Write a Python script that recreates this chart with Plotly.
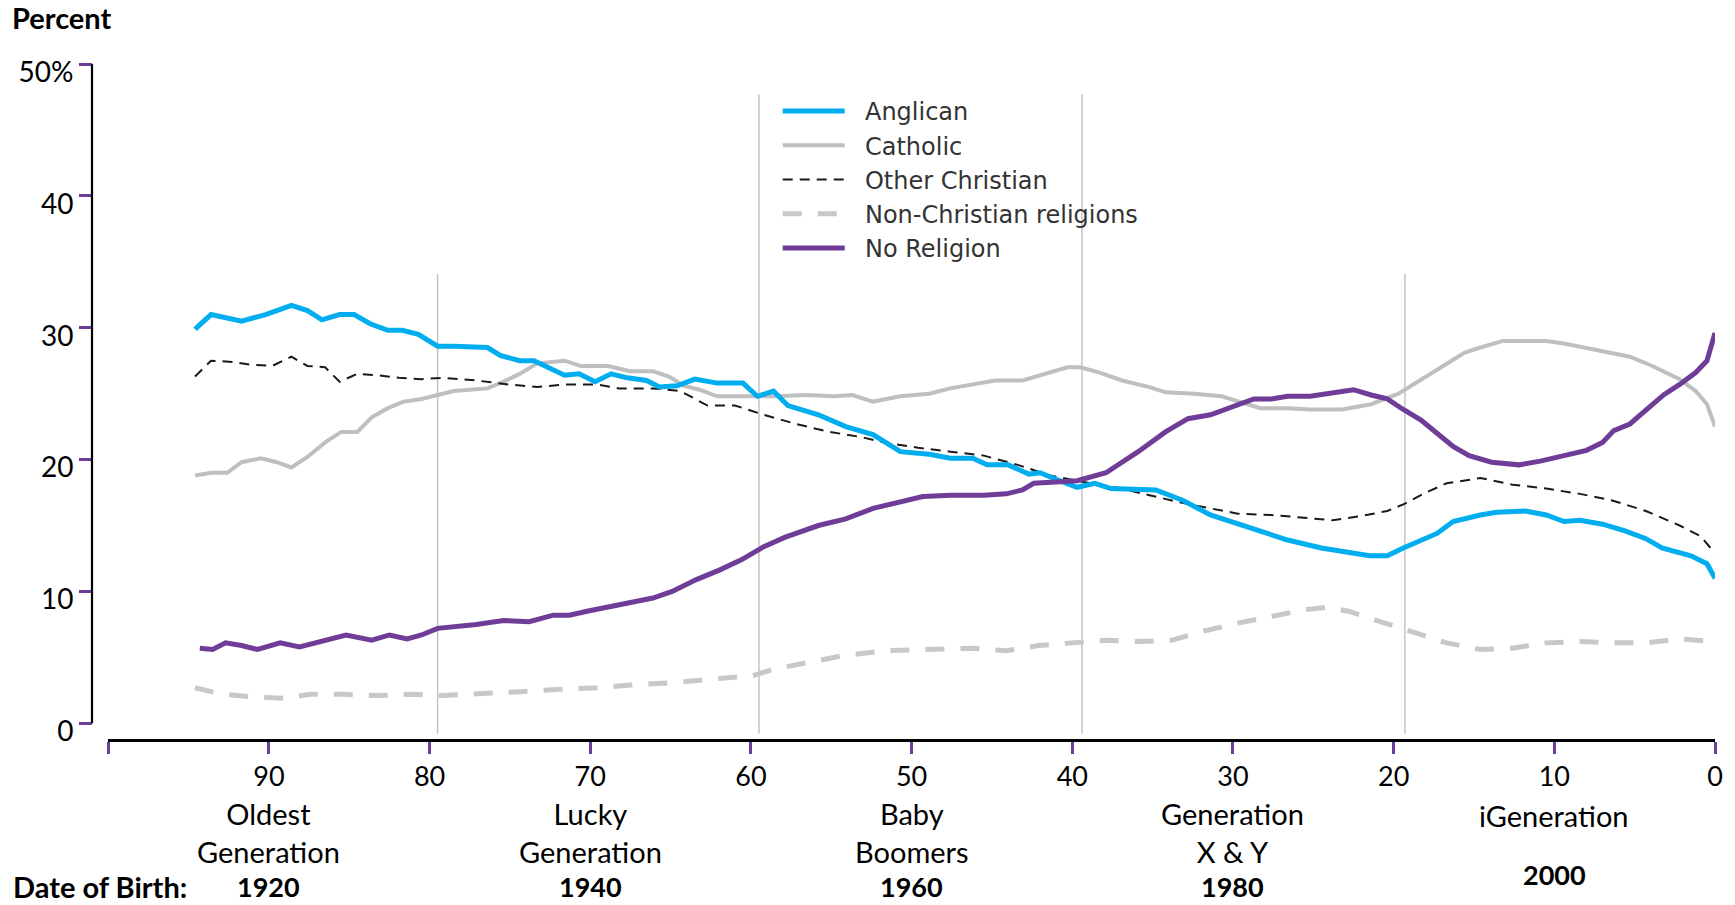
import plotly.graph_objects as go

# ---------------- data (age in years, percent) ----------------
anglican_age = [94.6, 93.6, 91.7, 90.2, 88.6, 87.6, 86.7, 85.6, 84.7, 83.7, 82.6, 81.7, 80.7, 79.5, 78.5,
                76.4, 75.6, 74.4, 73.5, 72.3, 71.6, 70.7, 69.7, 68.7, 67.7, 66.5, 65.7, 64.6, 63.5, 62.1,
                60.5, 59.6, 58.6, 57.7, 55.8, 54.1, 52.4, 50.7, 48.9, 47.6, 46.2, 45.3, 44.0, 42.7, 42.0,
                41.0, 39.7, 38.6, 37.6, 34.8, 33.1, 31.4, 29.0, 26.6, 24.5, 22.5, 21.5, 20.4, 19.4, 17.3,
                16.3, 14.6, 13.6, 11.8, 10.5, 9.4, 8.4, 7.0, 5.6, 4.3, 3.3, 1.5, 0.5, 0.0]
anglican_pct = [29.9, 31.0, 30.5, 31.0, 31.7, 31.3, 30.6, 31.0, 31.0, 30.3, 29.8, 29.8, 29.5, 28.6, 28.6,
                28.5, 27.9, 27.5, 27.5, 26.8, 26.4, 26.5, 25.9, 26.5, 26.2, 26.0, 25.5, 25.6, 26.1, 25.8,
                25.8, 24.8, 25.2, 24.1, 23.4, 22.5, 21.9, 20.6, 20.4, 20.1, 20.1, 19.6, 19.6, 18.9, 19.0,
                18.5, 17.9, 18.2, 17.8, 17.7, 16.9, 15.8, 14.8, 13.9, 13.3, 12.9, 12.7, 12.7, 13.3, 14.4,
                15.3, 15.8, 16.0, 16.1, 15.8, 15.3, 15.4, 15.1, 14.6, 14.0, 13.3, 12.7, 12.1, 11.0]

catholic_age = [94.6, 93.6, 92.6, 91.7, 90.5, 89.5, 88.6, 87.6, 86.5, 85.5, 84.5, 83.6, 82.6, 81.6, 80.5,
                79.5, 78.5, 76.4, 75.4, 74.4, 73.3, 71.6, 70.6, 68.9, 67.5, 66.1, 65.1, 64.2, 63.2, 62.1,
                60.5, 58.6, 56.5, 54.8, 53.7, 52.4, 50.7, 48.9, 47.6, 46.2, 44.8, 43.1, 41.7, 40.3, 39.5,
                38.3, 36.9, 35.2, 34.2, 32.4, 30.7, 29.7, 28.3, 26.6, 25.2, 23.2, 21.4, 19.7, 18.4, 17.0,
                15.6, 14.6, 13.2, 11.8, 10.5, 9.4, 7.7, 6.3, 5.3, 3.9, 2.2, 1.2, 0.5, 0.0]
catholic_pct = [18.8, 19.0, 19.0, 19.8, 20.1, 19.8, 19.4, 20.2, 21.3, 22.1, 22.1, 23.2, 23.9, 24.4, 24.6,
                24.9, 25.2, 25.4, 25.9, 26.5, 27.3, 27.5, 27.1, 27.1, 26.7, 26.7, 26.3, 25.6, 25.3, 24.8,
                24.8, 24.8, 24.9, 24.8, 24.9, 24.4, 24.8, 25.0, 25.4, 25.7, 26.0, 26.0, 26.5, 27.0, 27.0,
                26.6, 26.0, 25.5, 25.1, 25.0, 24.8, 24.4, 23.9, 23.9, 23.8, 23.8, 24.2, 25.0, 26.0, 27.1,
                28.1, 28.5, 29.0, 29.0, 29.0, 28.8, 28.4, 28.1, 27.8, 27.1, 26.1, 25.2, 24.2, 22.5]

other_christian_age = [94.6, 93.6, 92.2, 91.2, 89.8, 88.6, 87.6, 86.5, 85.6, 84.5, 83.3, 81.9, 80.5, 79.2,
                       77.1, 75.1, 73.3, 71.6, 69.6, 68.2, 66.1, 64.4, 62.7, 61.0, 59.2, 57.2, 55.1, 53.1,
                       51.7, 49.6, 47.6, 45.5, 43.4, 41.4, 39.3, 37.3, 35.2, 33.1, 31.4, 29.7, 27.6, 25.6,
                       23.8, 22.1, 20.4, 19.4, 18.0, 16.7, 14.6, 12.6, 10.5, 8.4, 6.4, 4.3, 2.2, 0.9, 0.0]
other_christian_pct = [26.3, 27.5, 27.4, 27.2, 27.1, 27.8, 27.1, 27.0, 25.9, 26.5, 26.4, 26.2, 26.1, 26.2,
                       26.0, 25.7, 25.5, 25.7, 25.7, 25.4, 25.4, 25.2, 24.1, 24.1, 23.4, 22.7, 22.1, 21.7,
                       21.3, 20.9, 20.6, 20.3, 19.6, 18.8, 18.3, 17.9, 17.3, 16.7, 16.3, 15.9, 15.8, 15.6,
                       15.4, 15.7, 16.1, 16.6, 17.5, 18.2, 18.6, 18.1, 17.8, 17.4, 16.9, 16.1, 15.0, 14.2, 12.9]

non_christian_age = [94.6, 92.9, 90.9, 89.1, 87.4, 85.4, 83.3, 81.2, 79.2, 77.1, 74.4, 71.6, 69.6, 67.5,
                     64.7, 62.0, 59.9, 58.6, 56.5, 54.4, 51.7, 48.9, 46.2, 44.1, 42.1, 40.0, 37.9, 35.9,
                     33.8, 31.8, 29.7, 27.6, 25.6, 24.2, 22.8, 20.8, 18.7, 16.7, 14.6, 12.6, 10.5, 8.4,
                     6.4, 4.3, 2.2, 0.0]
non_christian_pct = [2.7, 2.2, 2.0, 1.9, 2.2, 2.2, 2.1, 2.2, 2.1, 2.2, 2.4, 2.6, 2.7, 2.9,
                     3.1, 3.4, 3.6, 4.1, 4.6, 5.1, 5.5, 5.6, 5.7, 5.5, 5.9, 6.1, 6.3, 6.2,
                     6.3, 7.0, 7.6, 8.1, 8.6, 8.8, 8.5, 7.7, 6.9, 6.1, 5.6, 5.7, 6.1, 6.2,
                     6.1, 6.1, 6.4, 6.2]

no_religion_age = [94.3, 93.5, 92.7, 91.7, 90.7, 89.3, 88.1, 86.7, 85.2, 83.6, 82.5, 81.4, 80.5, 79.5,
                   78.4, 77.1, 75.4, 73.8, 72.3, 71.3, 70.2, 68.9, 67.5, 66.1, 64.9, 63.4, 62.0, 60.6,
                   59.2, 57.9, 55.8, 54.1, 52.4, 50.7, 49.3, 47.6, 45.5, 44.1, 43.1, 42.4, 41.0, 39.7,
                   37.9, 35.9, 34.2, 32.8, 31.4, 30.0, 28.7, 27.6, 26.6, 25.2, 24.2, 22.5, 21.4, 20.4,
                   19.4, 18.3, 17.3, 16.3, 15.3, 13.9, 12.2, 10.8, 9.4, 8.0, 7.0, 6.3, 5.3, 4.3, 3.2,
                   2.2, 1.2, 0.5, 0.0]
no_religion_pct = [5.7, 5.6, 6.1, 5.9, 5.6, 6.1, 5.8, 6.2, 6.7, 6.3, 6.7, 6.4, 6.7, 7.2,
                   7.3, 7.5, 7.8, 7.7, 8.2, 8.2, 8.5, 8.8, 9.1, 9.5, 10.0, 10.9, 11.6, 12.4,
                   13.4, 14.1, 15.0, 15.5, 16.3, 16.8, 17.2, 17.3, 17.3, 17.4, 17.7, 18.2, 18.3, 18.4,
                   19.0, 20.6, 22.1, 23.1, 23.4, 24.0, 24.6, 24.6, 24.8, 24.8, 25.0, 25.3, 24.9, 24.6,
                   23.8, 23.0, 22.0, 21.0, 20.3, 19.8, 19.6, 19.9, 20.3, 20.7, 21.3, 22.2, 22.7, 23.7, 24.9,
                   25.7, 26.6, 27.5, 29.6]

x_tick_values = [100, 90, 80, 70, 60, 50, 40, 30, 20, 10, 0]
x_tick_labels = ["", "90", "80", "70", "60", "50", "40", "30", "20", "10", "0"]
y_tick_values = [0, 10, 20, 30, 40, 50]
y_tick_labels = ["0", "10", "20", "30", "40", "50%"]

generation_ages = [90, 70, 50, 30, 10]
generation_names = ["Oldest<br>Generation", "Lucky<br>Generation", "Baby<br>Boomers",
                    "Generation<br>X & Y", "iGeneration"]
birth_years = ["1920", "1940", "1960", "1980", "2000"]

divider_ages = [79.5, 59.5, 39.4, 19.3]
divider_tops = [34.1, 47.7, 47.7, 34.1]

# ---------------- styling ----------------
PURPLE = "#6F3C98"
CYAN = "#00AEEF"
GREY = "#BFBFBF"
LIGHT_GREY = "#C8C8C8"
AXIS_FONT = "Lato"
LEGEND_PAD = "&nbsp;&nbsp;"

fig = go.Figure()

series = [
    ("Non-Christian religions", non_christian_age, non_christian_pct,
     dict(color=LIGHT_GREY, width=5, dash="19px,16px"), 4),
    ("Catholic", catholic_age, catholic_pct, dict(color=GREY, width=4), 2),
    ("Other Christian", other_christian_age, other_christian_pct,
     dict(color="#1a1a1a", width=2, dash="10px,7px"), 3),
    ("Anglican", anglican_age, anglican_pct, dict(color=CYAN, width=5), 1),
    ("No Religion", no_religion_age, no_religion_pct, dict(color=PURPLE, width=5), 5),
]
for name, xs, ys, line, rank in series:
    fig.add_trace(go.Scatter(x=xs, y=ys, mode="lines", name=LEGEND_PAD + name, line=line,
                             legendrank=rank, hoverinfo="skip"))

shapes = []
for age, top in zip(divider_ages, divider_tops):
    shapes.append(dict(type="line", xref="x", yref="y", x0=age, x1=age, y0=-0.8, y1=top,
                       line=dict(color="#C4C4C4", width=1.5), layer="below"))
# y axis line (stops at 0, x axis sits slightly below)
shapes.append(dict(type="line", xref="paper", yref="y", x0=0, x1=0, y0=0, y1=50,
                   line=dict(color="black", width=2.2)))

annotations = []
for age, name, year in zip(generation_ages, generation_names, birth_years):
    two_lines = "<br>" in name
    annotations.append(dict(x=age, xref="x", y=-0.1378 if two_lines else -0.1126, yref="paper",
                            text=name, showarrow=False, xanchor="center", yanchor="middle",
                            font=dict(family=AXIS_FONT, size=29, color="black")))
    annotations.append(dict(x=age, xref="x", y=-0.219 if two_lines else -0.2007, yref="paper",
                            text="<b>" + year + "</b>", showarrow=False, xanchor="center",
                            yanchor="middle",
                            font=dict(family=AXIS_FONT, size=27, color="black")))
annotations.append(dict(x=-0.0498, xref="paper", y=-0.219, yref="paper", text="<b>Date of Birth:</b>",
                        showarrow=False, xanchor="left", yanchor="middle",
                        font=dict(family=AXIS_FONT, size=29, color="black")))
annotations.append(dict(x=-0.0505, xref="paper", y=1.069, yref="paper", text="<b>Percent</b>",
                        showarrow=False, xanchor="left", yanchor="middle",
                        font=dict(family=AXIS_FONT, size=29, color="black")))

fig.update_layout(
    width=1735, height=905,
    margin=dict(l=92, r=17, t=64, b=166),
    paper_bgcolor="white", plot_bgcolor="white",
    showlegend=True,
    legend=dict(x=0.4225, y=0.963, xanchor="left", yanchor="top",
                bgcolor="rgba(0,0,0,0)", borderwidth=0, itemwidth=62,
                font=dict(family="DejaVu Sans", size=24, color="#333333"),
                tracegroupgap=0),
    xaxis=dict(range=[100, 0], domain=[0.01, 1], showgrid=False, zeroline=False,
               showline=True, linecolor="black", linewidth=2.5,
               ticks="outside", ticklen=12, tickwidth=2.5, tickcolor=PURPLE,
               tickvals=x_tick_values, ticktext=x_tick_labels, ticklabelstandoff=0,
               tickfont=dict(family=AXIS_FONT, size=27, color="black")),
    yaxis=dict(range=[-1.19, 50], anchor="free", position=0, showgrid=False, zeroline=False,
               showline=False, ticks="outside", ticklen=13, tickwidth=2.5, tickcolor=PURPLE,
               tickvals=y_tick_values, ticktext=y_tick_labels, ticklabelshift=8,
               tickfont=dict(family=AXIS_FONT, size=28, color="black")),
    shapes=shapes,
    annotations=annotations,
)

fig.write_html("out.html", config={"displayModeBar": False},
               post_script="document.body.style.margin='0';document.body.style.overflow='hidden';")
